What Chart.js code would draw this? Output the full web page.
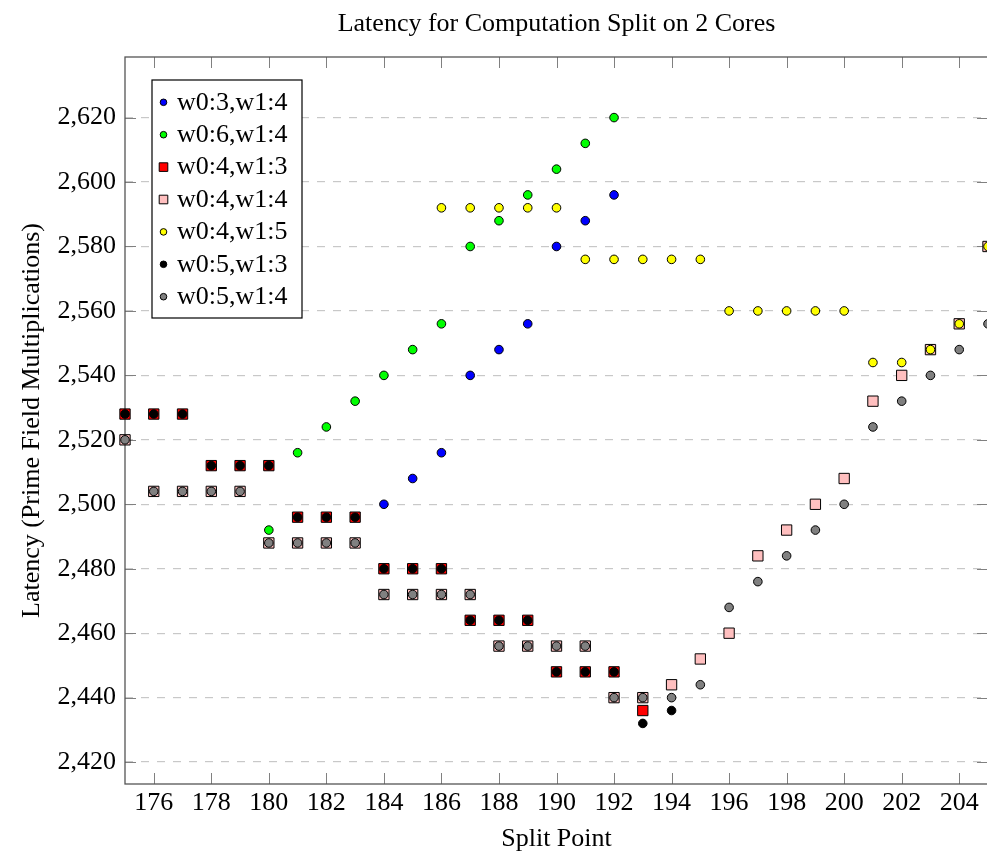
<!DOCTYPE html>
<html>
<head>
<meta charset="utf-8">
<title>Latency for Computation Split on 2 Cores</title>
<script src="https://cdn.jsdelivr.net/npm/chart.js@4.4.1/dist/chart.umd.min.js"></script>
<style>
  html, body { margin: 0; padding: 0; background: #fff; overflow: hidden; }
  canvas { display: block; }
</style>
</head>
<body>
<canvas id="latencyChart" width="1000" height="855"></canvas>
<script>
// series (split point -> latency)
const split34 = [184, 185, 186, 187, 188, 189, 190, 191, 192];
const lat34 = [2500, 2508, 2516, 2540, 2548, 2556, 2580, 2588, 2596];

const split64 = [180, 181, 182, 183, 184, 185, 186, 187, 188, 189, 190, 191, 192];
const lat64 = [2492, 2516, 2524, 2532, 2540, 2548, 2556, 2580, 2588, 2596, 2604, 2612, 2620];

const split43 = [175, 176, 177, 178, 179, 180, 181, 182, 183, 184, 185, 186, 187, 188, 189, 190, 191, 192, 193];
const lat43 = [2528, 2528, 2528, 2512, 2512, 2512, 2496, 2496, 2496, 2480, 2480, 2480, 2464, 2464, 2464, 2448, 2448, 2448, 2436];

const split44 = [175, 176, 177, 178, 179, 180, 181, 182, 183, 184, 185, 186, 187, 188, 189, 190,
  191, 192, 193, 194, 195, 196, 197, 198, 199, 200, 201, 202, 203, 204, 205];
const lat44 = [2520, 2504, 2504, 2504, 2504, 2488, 2488, 2488, 2488, 2472, 2472, 2472, 2472, 2456, 2456, 2456,
  2456, 2440, 2440, 2444, 2452, 2460, 2484, 2492, 2500, 2508, 2532, 2540, 2548, 2556, 2580];

const split45 = [186, 187, 188, 189, 190, 191, 192, 193, 194, 195, 196, 197, 198, 199, 200, 201, 202, 203, 204, 205];
const lat45 = [2592, 2592, 2592, 2592, 2592, 2576, 2576, 2576, 2576, 2576, 2560, 2560, 2560, 2560, 2560, 2544, 2544, 2548, 2556, 2580];

const split53 = [175, 176, 177, 178, 179, 180, 181, 182, 183, 184, 185, 186, 187, 188, 189, 190, 191, 192, 193, 194];
const lat53 = [2528, 2528, 2528, 2512, 2512, 2512, 2496, 2496, 2496, 2480, 2480, 2480, 2464, 2464, 2464, 2448, 2448, 2448, 2432, 2436];

const split54 = [175, 176, 177, 178, 179, 180, 181, 182, 183, 184, 185, 186, 187, 188, 189, 190,
  191, 192, 193, 194, 195, 196, 197, 198, 199, 200, 201, 202, 203, 204, 205];
const lat54 = [2520, 2504, 2504, 2504, 2504, 2488, 2488, 2488, 2488, 2472, 2472, 2472, 2472, 2456, 2456, 2456,
  2456, 2440, 2440, 2440, 2444, 2468, 2476, 2484, 2492, 2500, 2524, 2532, 2540, 2548, 2556];

const seriesLabels = ["w0:3,w1:4", "w0:6,w1:4", "w0:4,w1:3", "w0:4,w1:4", "w0:4,w1:5", "w0:5,w1:3", "w0:5,w1:4"];
const xTicks = [176, 178, 180, 182, 184, 186, 188, 190, 192, 194, 196, 198, 200, 202, 204];
const yTicks = [2420, 2440, 2460, 2480, 2500, 2520, 2540, 2560, 2580, 2600, 2620];

const FONT = '"Liberation Serif", "Times New Roman", serif';

function toPoints(xs, ys) {
  return xs.map((x, i) => ({ x: x, y: ys[i] }));
}

const seriesData = [[split34, lat34], [split64, lat64], [split43, lat43], [split44, lat44],
  [split45, lat45], [split53, lat53], [split54, lat54]];
const fills = ["#0000ff", "#00ff00", "#ff0000", "#ffbfbf", "#ffff00", "#000000", "#808080"];
const shapes = ["circle", "circle", "rect", "rect", "circle", "circle", "circle"];

const datasets = seriesData.map((s, i) => ({
  label: seriesLabels[i],
  data: toPoints(s[0], s[1]),
  showLine: false,
  pointStyle: shapes[i],
  pointRadius: shapes[i] == "rect" ? 7.3 : 4.3,
  pointHoverRadius: shapes[i] == "rect" ? 7.3 : 4.3,
  pointBackgroundColor: fills[i],
  pointBorderColor: "#000",
  pointBorderWidth: 1,
  clip: false,
  order: 10 - i, // later series on top
}));

// frame, inward ticks, title and legend like the pgfplots original
const decorations = {
  id: "decorations",
  beforeDatasetsDraw(chart) {
    const ctx = chart.ctx;
    const a = chart.chartArea;
    const xs = chart.scales.x;
    const ys = chart.scales.y;
    ctx.save();
    ctx.strokeStyle = "#808080";
    ctx.lineWidth = 1;
    ctx.beginPath();
    xTicks.forEach((v) => {
      const px = Math.round(xs.getPixelForValue(v)) + 0.5;
      ctx.moveTo(px, a.bottom); ctx.lineTo(px, a.bottom - 11);
      ctx.moveTo(px, a.top); ctx.lineTo(px, a.top + 11);
    });
    yTicks.forEach((v) => {
      const py = Math.round(ys.getPixelForValue(v)) + 0.5;
      ctx.moveTo(a.left, py); ctx.lineTo(a.left + 11, py);
      ctx.moveTo(a.right, py); ctx.lineTo(a.right - 11, py);
    });
    ctx.stroke();
    ctx.strokeStyle = "#555";
    ctx.lineWidth = 1.3;
    ctx.strokeRect(a.left, a.top, a.right - a.left, a.bottom - a.top);
    ctx.restore();
  },
  afterDatasetsDraw(chart) {
    const ctx = chart.ctx;
    const a = chart.chartArea;
    ctx.save();
    // legend box
    const bx = 152, by = 80, bw = 150, bh = 238;
    ctx.fillStyle = "#fff";
    ctx.fillRect(bx, by, bw, bh);
    ctx.strokeStyle = "#000";
    ctx.lineWidth = 1.2;
    ctx.strokeRect(bx, by, bw, bh);
    ctx.font = "26px " + FONT;
    ctx.textAlign = "left";
    ctx.textBaseline = "alphabetic";
    seriesLabels.forEach((lab, i) => {
      const cy = 102.3 + i * 32.4;
      ctx.fillStyle = fills[i];
      ctx.strokeStyle = "#000";
      ctx.lineWidth = 1;
      ctx.beginPath();
      if (shapes[i] == "rect") {
        ctx.rect(163.5 - 4.3, cy - 4.3, 8.6, 8.6);
      } else {
        ctx.arc(163.5, cy, 3.3, 0, Math.PI * 2);
      }
      ctx.fill();
      ctx.stroke();
      ctx.fillStyle = "#000";
      ctx.fillText(lab, 177, cy + 7.2);
    });
    // title
    ctx.textAlign = "center";
    ctx.fillText("Latency for Computation Split on 2 Cores", (a.left + a.right) / 2, 31);
    ctx.restore();
  },
};

Chart.defaults.font.family = FONT;
Chart.defaults.color = "#000";

const chart = new Chart(document.getElementById("latencyChart"), {
  type: "scatter",
  data: { datasets: datasets },
  options: {
    responsive: false,
    animation: false,
    layout: { padding: { top: 57, right: 12, left: 0, bottom: 0 } },
    plugins: {
      legend: { display: false },
      title: { display: false },
      tooltip: { enabled: false },
    },
    scales: {
      x: {
        type: "linear",
        min: 175,
        max: 205,
        afterBuildTicks: (s) => { s.ticks = xTicks.map((v) => ({ value: v })); },
        afterFit: (s) => { s.height = 71; },
        grid: { display: false, drawTicks: false },
        border: { display: false },
        ticks: {
          padding: 4,
          autoSkip: false,
          maxRotation: 0,
          font: { size: 26 },
          callback: (v) => String(v),
        },
        title: {
          display: true,
          text: "Split Point",
          font: { size: 26 },
          padding: { top: 0, bottom: 0 },
        },
      },
      y: {
        min: 2413.2,
        max: 2638.8,
        afterBuildTicks: (s) => { s.ticks = yTicks.map((v) => ({ value: v })); },
        afterFit: (s) => { s.width = 125; },
        grid: { color: "#c8c8c8", lineWidth: 1.2, drawTicks: false },
        border: { display: false, dash: [8, 8] },
        ticks: {
          padding: 9,
          font: { size: 26 },
          callback: (v) => v.toLocaleString("en-US"),
        },
        title: {
          display: true,
          text: "Latency (Prime Field Multiplications)",
          font: { size: 26 },
          padding: { top: 17, bottom: 0 },
        },
      },
    },
  },
  plugins: [decorations],
});
</script>
</body>
</html>
